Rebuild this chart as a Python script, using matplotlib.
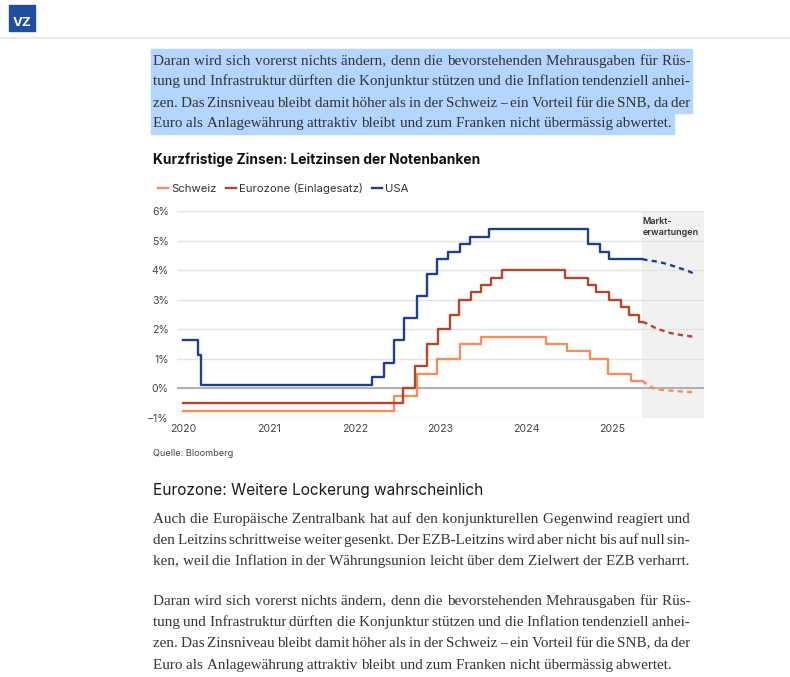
import matplotlib
matplotlib.use('Agg')
import matplotlib.pyplot as plt
import pandas as pd
from matplotlib.patches import Rectangle
from matplotlib.transforms import Bbox

W, H = 790, 677

# Leitzinsen: Datum der Änderung und neuer Satz (in %)
ch_dates = ['2020-01-01', '2022-06-17', '2022-09-23', '2022-12-16', '2023-03-24',
            '2023-06-23', '2024-03-22', '2024-06-21', '2024-09-27', '2024-12-13',
            '2025-03-21']
ch_rates = [-0.75, -0.25, 0.5, 1.0, 1.5, 1.75, 1.5, 1.25, 1.0, 0.5, 0.25]

ez_dates = ['2020-01-01', '2022-07-27', '2022-09-14', '2022-11-02', '2022-12-21',
            '2023-02-08', '2023-03-22', '2023-05-10', '2023-06-21', '2023-08-02',
            '2023-09-20', '2024-06-12', '2024-09-18', '2024-10-23', '2024-12-18',
            '2025-02-05', '2025-03-12', '2025-04-23']
ez_rates = [-0.5, 0.0, 0.75, 1.5, 2.0, 2.5, 3.0, 3.25, 3.5, 3.75, 4.0,
            3.75, 3.5, 3.25, 3.0, 2.75, 2.5, 2.25]

us_dates = ['2020-01-01', '2020-03-04', '2020-03-16', '2022-03-17', '2022-05-05',
            '2022-06-16', '2022-07-28', '2022-09-22', '2022-11-03', '2022-12-15',
            '2023-02-02', '2023-03-23', '2023-05-04', '2023-07-27', '2024-09-19',
            '2024-11-08', '2024-12-19']
us_rates = [1.625, 1.125, 0.125, 0.375, 0.875, 1.625, 2.375, 3.125, 3.875, 4.375,
            4.625, 4.875, 5.125, 5.375, 4.875, 4.625, 4.375]

last_date = '2025-05-08'

# Markterwartungen
fc_dates = ['2025-05-08', '2025-06-01', '2025-07-01', '2025-08-01', '2025-09-01',
            '2025-10-01', '2025-11-01', '2025-12-01', '2025-12-20']
ch_fc = [0.25, 0.12, -0.03, -0.05, -0.07, -0.09, -0.11, -0.12, -0.13]
ez_fc = [2.25, 2.18, 2.05, 1.96, 1.88, 1.83, 1.79, 1.76, 1.74]
us_fc = [4.375, 4.33, 4.30, 4.25, 4.18, 4.10, 4.02, 3.93, 3.83]

labels = ['Schweiz', 'Eurozone (Einlagesatz)', 'USA']
colors = ['#f28f5f', '#b1472b', '#1d3f8c']
years = [2020, 2021, 2022, 2023, 2024, 2025]

para1 = [
    'Daran wird sich vorerst nichts ändern, denn die bevorstehenden Mehrausgaben für Rüs-',
    'tung und Infrastruktur dürften die Konjunktur stützen und die Inflation tendenziell anhei-',
    'zen. Das Zinsniveau bleibt damit höher als in der Schweiz – ein Vorteil für die SNB, da der',
    'Euro als Anlagewährung attraktiv bleibt und zum Franken nicht übermässig abwertet.',
]
para2 = [
    'Auch die Europäische Zentralbank hat auf den konjunkturellen Gegenwind reagiert und',
    'den Leitzins schrittweise weiter gesenkt. Der EZB-Leitzins wird aber nicht bis auf null sin-',
    'ken, weil die Inflation in der Währungsunion leicht über dem Zielwert der EZB verharrt.',
]


def fx(x):
    return x / W


def fy(y):
    return 1 - y / H


fig = plt.figure(figsize=(W / 100, H / 100), dpi=100)
renderer = fig.canvas.get_renderer()
sans = 'Inter'
serif_family = 'Liberation Serif'


def text_width(s, size):
    t = fig.text(0, 0, s, family=serif_family, fontsize=size)
    w = t.get_window_extent(renderer).width
    t.remove()
    return w


# Schriftgrösse so wählen, dass die letzte Zeile ca. 520 px breit ist
serif_size = 10 * 520 / text_width(para1[-1], 10)
space_w = text_width('a a', serif_size) - text_width('aa', serif_size)
# schmaler Zusatz (wird weggeschnitten), damit alle Wörter dieselbe Grundlinie haben
strut = '\u200a|'


def paragraph(lines, y0, dy, highlight=False, x0=153, x1=690):
    for i, line in enumerate(lines):
        y = y0 + i * dy
        words = line.split(' ')
        widths = [text_width(w, serif_size) for w in words]
        if i == len(lines) - 1:
            gap = space_w
        else:
            gap = (x1 - x0 - sum(widths)) / (len(words) - 1)
        x = x0
        for w, wd in zip(words, widths):
            t = fig.text(fx(x), fy(y + 4.5), w + strut, family=serif_family,
                         fontsize=serif_size, color='#333333', va='baseline')
            t.set_clip_box(Bbox.from_extents(x - 3, H - y - 20, x + wd + 0.3, H - y + 20))
            x += wd + gap
        if highlight:
            end = x - gap + 2
            fig.patches.append(Rectangle((fx(x0 - 2), fy(y + 10.8)), fx(end - x0 + 2), 21.6 / H,
                                         transform=fig.transFigure, color='#b4d5fd',
                                         zorder=-1))


# Kopfzeile mit Logo
fig.patches.append(Rectangle((fx(9), fy(31)), fx(26), 26 / H, transform=fig.transFigure,
                             color='#1f4f9c', zorder=1))
fig.text(fx(22), fy(23), 'VZ', family=sans, fontsize=9.5, fontweight='bold', color='white',
         ha='center', va='center')
fig.add_artist(plt.Line2D([0, 1], [fy(37.5), fy(37.5)], transform=fig.transFigure,
                          color='#e6e6e6', lw=1.2))

paragraph(para1, 60, 21, highlight=True)

fig.text(fx(153), fy(160), 'Kurzfristige Zinsen: Leitzinsen der Notenbanken', family=sans,
         fontsize=9.95, fontweight='bold', color='#111111', va='center')

# Diagramm
ax = fig.add_axes([fx(177), fy(418), fx(704 - 177), (418 - 211) / H])
to_dt = pd.to_datetime
series = [(ch_dates, ch_rates, ch_fc), (ez_dates, ez_rates, ez_fc), (us_dates, us_rates, us_fc)]
for (d, r, f), c, lab in zip(series, colors, labels):
    xs = list(to_dt(d)) + [to_dt(last_date)]
    ys = r + [r[-1]]
    ax.step(xs, ys, where='post', color=c, lw=1.7, label=lab, zorder=3)
    ax.plot(to_dt(fc_dates), f, color=c, lw=1.7, ls=(0, (2.2, 1.8)), zorder=3)

ax.axvspan(to_dt(last_date), to_dt('2026-01-25'), color='#f1f1f1', lw=0, zorder=0)
ax.text(to_dt(last_date) + pd.Timedelta(days=2), 5.8, 'Markt-\nerwartungen', fontsize=6.5,
        family=sans, fontweight='semibold', color='#333333', va='top', ha='left',
        linespacing=1.3, zorder=4)

ax.set_xlim(to_dt('2019-12-07'), to_dt('2026-01-25'))
ax.set_ylim(-1, 6)
ax.set_yticks(range(-1, 7))
ax.set_yticklabels([f'{v}%'.replace('-', '−') for v in range(-1, 7)])
ax.set_xticks([to_dt(f'{y}-01-01') for y in years])
ax.set_xticklabels([str(y) for y in years])
ax.grid(axis='y', color='#e3e3e3', lw=1, zorder=1)
ax.axhline(0, color='#a0a0a0', lw=1.1, zorder=2)
for s in ax.spines.values():
    s.set_visible(False)
ax.tick_params(length=0, labelsize=7.6, colors='#444444', pad=4)
ax.tick_params(axis='y', pad=6)
for t in ax.get_xticklabels() + ax.get_yticklabels():
    t.set_family(sans)
ax.set_facecolor('none')

ax.legend(loc='center left', bbox_to_anchor=(fx(148), fy(188)), bbox_transform=fig.transFigure,
          ncol=3, frameon=False, handlelength=0.85, handletextpad=0.3, columnspacing=0.8,
          prop={'family': sans, 'size': 8.2}, labelcolor='#333333')

fig.text(fx(153), fy(453), 'Quelle: Bloomberg', family=sans, fontsize=6.6, color='#444444',
         va='center')

fig.text(fx(153), fy(490), 'Eurozone: Weitere Lockerung wahrscheinlich', family=sans,
         fontsize=11.1, color='#1a1a1a', va='center')

paragraph(para2, 518, 21.5)
paragraph(para1, 600, 21.5)

fig.savefig('out.png', dpi=100, facecolor='white')
